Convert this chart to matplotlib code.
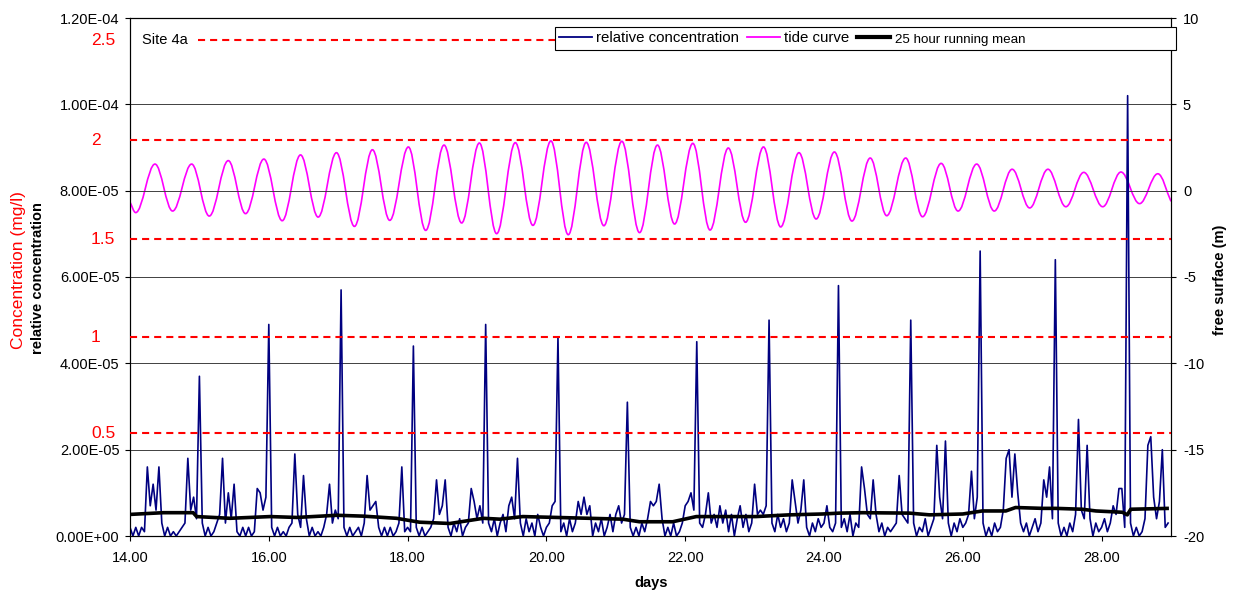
import numpy as np
import matplotlib
matplotlib.use('Agg')
import matplotlib.pyplot as plt
import matplotlib.ticker as mticker
import matplotlib.transforms as mtransforms
from matplotlib.path import Path
from matplotlib.patches import PathPatch, Rectangle
from matplotlib.lines import Line2D

plt.rcParams['font.family'] = ['Liberation Sans', 'DejaVu Sans']

# ---------------- data ----------------
# hourly relative concentration (x 1e-6), starting at day 14.00, one row per day
conc_day14 = [2, 0, 2, 0, 2, 1, 16, 7, 12, 6, 16, 3, 0, 2, 0, 1, 0, 1, 2, 3, 18, 6, 9, 4]
conc_day15 = [37, 3, 0, 2, 0, 1, 3, 5, 18, 3, 10, 4, 12, 1, 0, 2, 0, 2, 0, 1, 11, 10, 6, 9]
conc_day16 = [49, 2, 0, 2, 0, 1, 0, 2, 3, 19, 5, 2, 14, 4, 0, 2, 0, 1, 0, 2, 5, 12, 3, 6]
conc_day17 = [4, 57, 2, 0, 2, 0, 1, 2, 0, 3, 14, 6, 7, 8, 2, 0, 2, 0, 2, 0, 1, 3, 16, 1]
conc_day18 = [2, 1, 44, 2, 0, 2, 0, 1, 2, 4, 13, 5, 7, 13, 2, 0, 3, 1, 4, 0, 2, 3, 11, 8]
conc_day19 = [4, 7, 3, 49, 3, 1, 4, 0, 3, 5, 1, 7, 9, 4, 18, 3, 0, 4, 1, 3, 0, 5, 2, 0]
conc_day20 = [2, 3, 7, 8, 46, 1, 3, 0, 4, 1, 3, 8, 5, 9, 5, 7, 0, 3, 1, 4, 0, 2, 5, 1]
conc_day21 = [5, 7, 3, 5, 31, 2, 0, 2, 0, 3, 1, 4, 8, 7, 8, 12, 4, 0, 2, 0, 3, 0, 1, 3]
conc_day22 = [7, 8, 10, 6, 45, 3, 2, 5, 10, 3, 5, 2, 7, 3, 6, 1, 5, 0, 4, 7, 2, 5, 1, 3]
conc_day23 = [12, 5, 6, 5, 7, 50, 3, 1, 5, 2, 4, 1, 3, 13, 8, 3, 6, 13, 2, 0, 3, 1, 4, 2]
conc_day24 = [3, 7, 2, 1, 3, 58, 2, 4, 1, 5, 0, 3, 2, 16, 11, 5, 4, 13, 5, 1, 3, 0, 2, 1]
conc_day25 = [2, 3, 14, 5, 4, 3, 50, 3, 0, 2, 1, 4, 0, 2, 4, 21, 9, 4, 22, 3, 0, 3, 1, 4]
conc_day26 = [2, 3, 5, 15, 4, 9, 66, 3, 0, 2, 0, 3, 1, 2, 6, 18, 20, 9, 19, 10, 3, 1, 3, 0]
conc_day27 = [2, 4, 1, 3, 13, 9, 16, 4, 64, 3, 0, 2, 0, 3, 1, 5, 27, 6, 4, 21, 4, 0, 3, 1]
conc_day28 = [2, 4, 1, 3, 7, 5, 11, 11, 2, 102, 3, 0, 2, 0, 1, 4, 21, 23, 9, 4, 8, 20, 2, 3]

# 25 hour running mean (x 1e-5)
mean_days = [14.0, 14.48, 14.91, 14.96, 15.44, 16.02, 16.4, 16.98, 17.36, 17.84, 18.17,
             18.61, 19.09, 19.33, 19.66, 20.14, 20.62, 21.1, 21.34, 21.82, 22.16, 22.54,
             23.02, 23.5, 23.98, 24.22, 24.56, 25.23, 25.52, 26.0, 26.28, 26.62, 26.76,
             27.15, 27.34, 27.72, 27.92, 28.3, 28.37, 28.42, 28.97]
mean_vals = [0.50, 0.54, 0.54, 0.45, 0.41, 0.45, 0.43, 0.48, 0.46, 0.41, 0.32,
             0.29, 0.41, 0.39, 0.45, 0.43, 0.41, 0.39, 0.33, 0.33, 0.45, 0.45,
             0.45, 0.49, 0.51, 0.53, 0.54, 0.53, 0.49, 0.51, 0.58, 0.58, 0.66,
             0.64, 0.64, 0.62, 0.58, 0.55, 0.49, 0.62, 0.64]

# tide curve: high / low waters (m)
tide_days = [14.0, 14.082, 14.36, 14.614, 14.888, 15.142, 15.416, 15.665, 15.929, 16.193,
             16.457, 16.711, 16.975, 17.234, 17.493, 17.743, 18.011, 18.261, 18.525, 18.779,
             19.034, 19.283, 19.552, 19.806, 20.065, 20.315, 20.574, 20.828, 21.087, 21.342,
             21.6, 21.847, 22.11, 22.358, 22.621, 22.87, 23.128, 23.376, 23.639, 23.887,
             24.15, 24.403, 24.666, 24.904, 25.177, 25.42, 25.688, 25.932, 26.2, 26.453,
             26.711, 26.964, 27.227, 27.485, 27.743, 28.016, 28.279, 28.547, 28.81, 29.0]
tide_m = [-0.66, -1.27, 1.54, -1.18, 1.54, -1.47, 1.74, -1.33, 1.83, -1.74,
          2.07, -1.53, 2.20, -2.07, 2.37, -1.72, 2.53, -2.30, 2.64, -1.87,
          2.76, -2.49, 2.78, -2.01, 2.88, -2.55, 2.80, -2.03, 2.86, -2.43,
          2.64, -1.93, 2.74, -2.28, 2.47, -1.83, 2.53, -2.10, 2.20, -1.64,
          2.24, -1.76, 1.89, -1.45, 1.89, -1.51, 1.58, -1.18, 1.54, -1.18,
          1.24, -1.00, 1.24, -0.93, 1.06, -0.93, 1.08, -0.75, 0.98, -0.62]

# concentration levels (mg/l) and their equivalent relative concentration
mgl_labels = ['0.5', '1', '1.5', '2', '2.5']
mgl_equiv = [2.38e-5, 4.60e-5, 6.88e-5, 9.17e-5, 1.149e-4]

x_ticks = [14, 16, 18, 20, 22, 24, 26, 28]
left_ticks = [0, 2e-5, 4e-5, 6e-5, 8e-5, 1e-4, 1.2e-4]
right_ticks = [-20, -15, -10, -5, 0, 5, 10]

# ---------------- figure ----------------
W, H = 1235, 595
fig = plt.figure(figsize=(W / 100, H / 100), dpi=100)
fig.patch.set_facecolor('white')
ax = fig.add_axes([130 / W, 1 - 536 / H, (1171 - 130) / W, (536 - 18) / H])
ax2 = ax.twinx()
ax.set_zorder(2)
ax.patch.set_visible(False)
ax2.set_zorder(1)

conc = np.array(conc_day14 + conc_day15 + conc_day16 + conc_day17 + conc_day18 +
                conc_day19 + conc_day20 + conc_day21 + conc_day22 + conc_day23 +
                conc_day24 + conc_day25 + conc_day26 + conc_day27 + conc_day28) * 1e-6
conc_t = 14 + np.arange(len(conc)) / 24.0

blue = '#000080'
magenta = '#FF00FF'

ax.plot(conc_t, conc, color=blue, lw=1.2, zorder=2)
ax.plot(mean_days, np.array(mean_vals) * 1e-5, color='black', lw=2.6, zorder=3,
        solid_capstyle='butt')

# tide curve drawn as smooth curve through the high/low waters
k = 0.364
verts = [(tide_days[0], tide_m[0])]
codes = [Path.MOVETO]
n = len(tide_days)
for i in range(n - 1):
    t0, v0, t1, v1 = tide_days[i], tide_m[i], tide_days[i + 1], tide_m[i + 1]
    dt = t1 - t0
    if i == 0:
        c1 = (t0 + dt / 3, v0 + (v1 - v0) / 3)
    else:
        c1 = (t0 + k * dt, v0)
    if i == n - 2:
        c2 = (t1 - dt / 3, v1 - (v1 - v0) / 3)
    else:
        c2 = (t1 - k * dt, v1)
    verts += [c1, c2, (t1, v1)]
    codes += [Path.CURVE4] * 3
ax2.add_patch(PathPatch(Path(verts, codes), facecolor='none', edgecolor=magenta, lw=1.2))

# axes setup
ax.set_xlim(14, 29)
ax.set_ylim(0, 1.2e-4)
ax2.set_ylim(-20, 10)
ax.set_xticks(x_ticks)
ax.set_yticks(left_ticks)
ax2.set_yticks(right_ticks)
ax.xaxis.set_major_formatter(mticker.FuncFormatter(lambda v, p: f"{v:.2f}"))
ax.yaxis.set_major_formatter(mticker.FuncFormatter(lambda v, p: f"{v:.2E}"))
ax2.yaxis.set_major_formatter(mticker.FuncFormatter(lambda v, p: f"{v:g}"))

ax.grid(axis='y', color='#404040', lw=0.7, zorder=0)
ax.set_axisbelow(True)

ax.tick_params(axis='x', direction='out', length=3.6, width=0.8, pad=7, labelsize=10.5)
ax.tick_params(axis='y', direction='out', length=3.6, width=0.8, pad=4, labelsize=10.5)
ax2.tick_params(axis='y', direction='out', length=3.6, width=0.8, pad=5, labelsize=10.5)
for a in (ax, ax2):
    for s in a.spines.values():
        s.set_color('black')
        s.set_linewidth(0.8)

# red concentration lines and labels
blend = mtransforms.blended_transform_factory(fig.transFigure, ax.transData)
for lab, yv in zip(mgl_labels, mgl_equiv):
    xmin = (198 - 130) / (1171 - 130) if lab == '2.5' else 0
    ax.axhline(yv, xmin=xmin, color='red', lw=1.5, dashes=(3.4, 2.4), zorder=4)
    ax.text(91 / W, yv, lab, transform=blend, ha='left', va='center', color='red',
            fontsize=12.5, clip_on=False)

ax.text((142 - 130) / (1171 - 130), mgl_equiv[-1], 'Site 4a', transform=ax.get_yaxis_transform(),
        ha='left', va='center', fontsize=10.5)

# axis titles
fig.text(19 / W, 1 - 270 / H, 'Concentration (mg/l)', rotation=90, color='red',
         fontsize=12.5, ha='center', va='center')
fig.text(38 / W, 1 - 278 / H, 'relative concentration', rotation=90, fontweight='bold',
         fontsize=10.5, ha='center', va='center')
fig.text(1220 / W, 1 - 280 / H, 'free surface (m)', rotation=90, fontweight='bold',
         fontsize=10.5, ha='center', va='center')
fig.text(651 / W, 1 - 583 / H, 'days', fontweight='bold', fontsize=10.5,
         ha='center', va='center')

# legend
fig.patches.append(Rectangle((555 / W, 1 - 50 / H), 621 / W, 23 / H, transform=fig.transFigure,
                             facecolor='white', edgecolor='black', lw=0.8, zorder=4))
handles = [Line2D([], [], color=blue, lw=1.3),
           Line2D([], [], color=magenta, lw=1.3),
           Line2D([], [], color='black', lw=3)]
leg = fig.legend(handles, ['relative concentration', 'tide curve', '25 hour running mean'],
                 loc='center left', bbox_to_anchor=(559 / W, 1 - 38.5 / H), ncol=3,
                 frameon=False, fontsize=10.8, handlelength=2.2, handletextpad=0.3,
                 columnspacing=0.5, borderpad=0, borderaxespad=0)
leg.set_zorder(5)
leg.get_texts()[2].set_fontsize(9.6)

fig.savefig('out.png', dpi=100, facecolor='white')
